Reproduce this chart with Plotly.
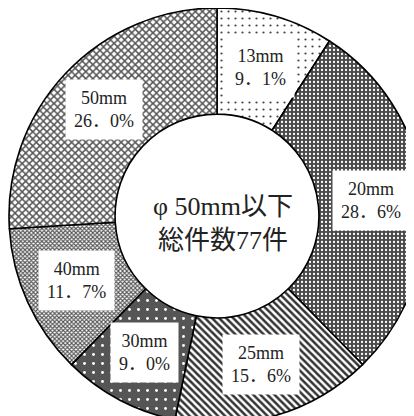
import math
import plotly.graph_objects as go

labels = ["13mm", "20mm", "25mm", "30mm", "40mm", "50mm"]
counts = [7, 22, 12, 7, 9, 20]
pct_text = ["9．1%", "28．6%", "15．6%", "9．0%", "11．7%", "26．0%"]
center_text = "φ 50mm以下<br>総件数77件"

bg_colors = ["#ffffff", "#4a4a4a", "#ffffff", "#555555", "#ffffff", "#ffffff"]
fg_colors = ["#444444", "#ffffff", "#333333", "#ffffff", "#555555", "#555555"]
shapes = [".", ".", "\\", ".", "x", "x"]
sizes = [7, 4, 5, 9, 3, 5]
solid = [0.08, 0.25, 0.5, 0.08, 0.6, 0.5]

W, H = 418, 416
HOLE = 0.49

fig = go.Figure(go.Pie(
    labels=labels,
    values=counts,
    sort=False,
    direction="clockwise",
    rotation=0,
    hole=HOLE,
    textinfo="none",
    hoverinfo="label+percent",
    marker=dict(
        colors=bg_colors,
        line=dict(color="#000000", width=1.6),
        pattern=dict(shape=shapes, fgcolor=fg_colors, bgcolor=bg_colors,
                     size=sizes, solidity=solid, fillmode="replace"),
    ),
    showlegend=False,
    domain=dict(x=[0, 1], y=[0, 1]),
))

# label positions derived from the data (mid-angle of each slice, mid-ring radius)
R = min(W, H) / 2
total = sum(counts)
cum = 0
annotations = []
for lab, c, p in zip(labels, counts, pct_text):
    mid = (cum + c / 2) / total * 2 * math.pi
    cum += c
    r = R * (1 + HOLE) / 2
    x = 0.5 + r * math.sin(mid) / W
    y = 0.5 + r * math.cos(mid) / H
    annotations.append(dict(
        x=x, y=y, xref="paper", yref="paper", showarrow=False,
        xanchor="center", yanchor="middle",
        text=f"{lab}<br>{p}", align="center",
        font=dict(family="Liberation Serif, Noto Sans CJK JP", size=18, color="#222222"),
        bgcolor="#ffffff", borderpad=8,
    ))

annotations.append(dict(
    x=0.515, y=0.483, xref="paper", yref="paper", showarrow=False,
    xanchor="center", yanchor="middle",
    text=center_text, align="center",
    font=dict(family="Liberation Serif, Noto Sans CJK JP", size=26, color="#222222"),
))

fig.update_layout(
    width=W, height=H,
    margin=dict(l=0, r=0, t=0, b=0),
    paper_bgcolor="#ffffff",
    plot_bgcolor="#ffffff",
    annotations=annotations,
)

fig.write_html("out.html")
